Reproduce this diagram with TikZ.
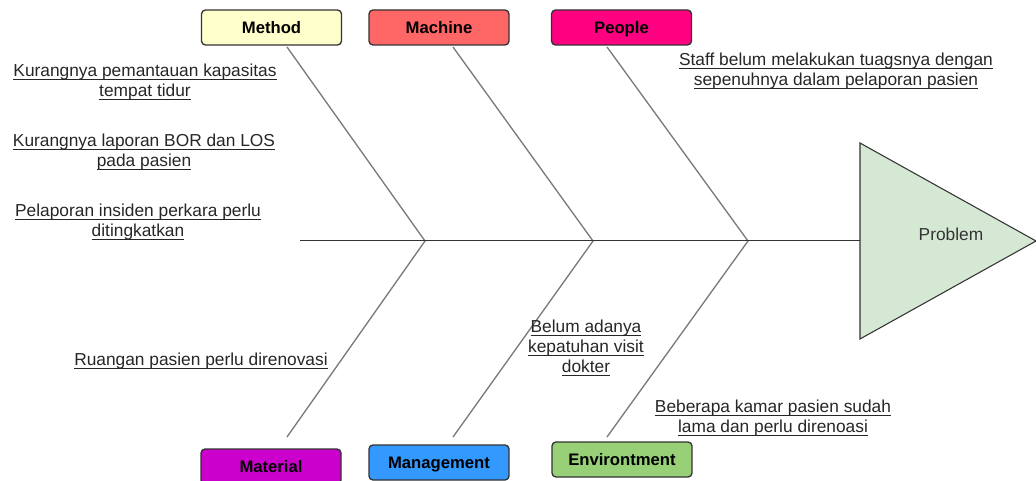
\documentclass[tikz,border=0pt]{standalone}
\usepackage{fontspec}
\setmainfont{Liberation Sans}
\usetikzlibrary{calc}

% underline at a fixed depth, through the descenders
\newcommand{\ulnote}[1]{\setbox0=\hbox{#1}\rlap{\rule[-2.2pt]{\wd0}{0.7pt}}\box0}

\definecolor{methodfill}{HTML}{FFFFCC}
\definecolor{machinefill}{HTML}{FF6666}
\definecolor{peoplefill}{HTML}{FF0080}
\definecolor{materialfill}{HTML}{CC00CC}
\definecolor{managementfill}{HTML}{3399FF}
\definecolor{environmentfill}{HTML}{97D077}
\definecolor{problemfill}{HTML}{D5E8D4}
\definecolor{bonegray}{HTML}{7A7A7A}
\definecolor{inkgray}{HTML}{333333}

\tikzset{
	cause/.style={draw=inkgray, line width=1pt, rounded corners=3pt, inner sep=0pt,
		minimum width=105pt, minimum height=26.25pt, text height=9pt, text depth=0pt,
		font=\fontsize{12.5}{14}\selectfont\bfseries},
	bone/.style={draw=bonegray, line width=1pt},
	spine/.style={draw=inkgray, line width=0.75pt},
	note/.style={align=center, anchor=north, inner sep=0pt, text=black!85,
		font=\fontsize{13}{15}\selectfont},
}

\begin{document}
\begin{tikzpicture}[x=0.75pt, y=-0.75pt]
	\clip (0,0) rectangle (1036,481);
	
	% Joints on the spine (edit these to taste)
	\def\spineY{241}
	\def\rootTop{47}
	\def\rootBot{437}
	
	% Cause boxes
	\foreach \name/\x/\y/\col/\lbl in {
		method/271.5/27.5/methodfill/Method,
		machine/439/27.5/machinefill/Machine,
		people/621.5/27.5/peoplefill/People,
		material/271/466.5/materialfill/Material,
		management/439/462.5/managementfill/Management,
		environment/622/459.5/environmentfill/Environtment}{
		\node[cause, fill=\col] (\name) at (\x,\y) {\lbl};
	}
	
	% Bones: top root, joint, bottom root
	\foreach \i/\xt/\xj in {1/287/425, 2/453/593, 3/607/748}{
		\coordinate (top\i) at (\xt,\rootTop);
		\coordinate (joint\i) at (\xj,\spineY);
		\coordinate (bot\i) at (\xt,\rootBot);
		\draw[bone] (top\i) -- (joint\i) -- (bot\i);
	}
	
	% Head of the fish
	\coordinate (tail) at (300,\spineY);
	\coordinate (head) at (860,\spineY);
	\fill[problemfill, draw=inkgray, line width=0.8pt]
		(860,143) -- (1036,\spineY) -- (860,339) -- cycle;
	\draw[spine] (tail) -- (head);
	\node[text=inkgray, font=\fontsize{13}{15}\selectfont] (problem) at (951,234) {Problem};
	
	% Causes written out
	\node[note] (bed) at (145,64) {\ulnote{Kurangnya pemantauan kapasitas}\\\ulnote{tempat tidur}};
	\node[note] (bor) at (144,134) {\ulnote{Kurangnya laporan BOR dan LOS}\\\ulnote{pada pasien}};
	\node[note] (incident) at (138,204) {\ulnote{Pelaporan insiden perkara perlu}\\\ulnote{ditingkatkan}};
	\node[note] (room) at (201,353) {\ulnote{Ruangan pasien perlu direnovasi}};
	\node[note] (visit) at (586,320) {\ulnote{Belum adanya}\\\ulnote{kepatuhan visit}\\\ulnote{dokter}};
	\node[note] (ward) at (773,400) {\ulnote{Beberapa kamar pasien sudah}\\\ulnote{lama dan perlu direnoasi}};
	\node[note] (staff) at (836,53) {\ulnote{Staff belum melakukan tuagsnya dengan}\\\ulnote{sepenuhnya dalam pelaporan pasien}};
\end{tikzpicture}
\end{document}
